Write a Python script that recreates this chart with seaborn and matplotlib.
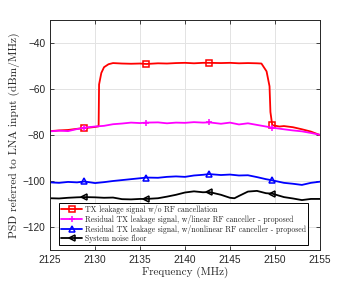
import numpy as np
import pandas as pd
import matplotlib
matplotlib.use('Agg')
import matplotlib.pyplot as plt
import seaborn as sns

# ---- data ----
marker_freqs = [2128.8, 2135.7, 2142.7, 2149.7]

freq_tx = [2125, 2126, 2127, 2128, 2128.8, 2130, 2130.4, 2130.45, 2130.7, 2131.0, 2131.5, 2132,
           2133, 2134, 2135, 2135.7, 2137, 2138, 2139, 2140, 2141, 2142, 2142.7, 2144, 2145,
           2146, 2147, 2148, 2148.5, 2149.07, 2149.4, 2149.5, 2149.7, 2150.5, 2151, 2152, 2153,
           2154, 2155]
psd_tx = [-78.3, -78.0, -77.8, -77.3, -77.0, -76.5, -76.2, -58.0, -53.0, -50.5, -49.2, -48.7,
          -48.9, -49.0, -48.9, -49.1, -48.8, -48.9, -48.7, -48.6, -48.8, -48.6, -48.6, -48.7,
          -48.6, -48.8, -48.7, -48.8, -48.9, -52.3, -58.8, -70.0, -75.7, -76.3, -76.1, -76.6,
          -77.5, -78.5, -80.0]

freq_lin = [2125, 2126, 2127, 2128, 2128.8, 2130, 2131, 2132, 2133, 2134, 2135, 2135.7, 2137,
            2138, 2139, 2140, 2141, 2142, 2142.7, 2144, 2145, 2146, 2147, 2148, 2149, 2149.7,
            2151, 2152, 2153, 2154, 2155]
psd_lin = [-78.4, -78.1, -78.3, -77.4, -76.8, -76.3, -76.0, -75.3, -75.0, -74.6, -74.8, -74.6,
           -74.5, -74.9, -74.6, -74.7, -74.4, -74.6, -74.5, -75.1, -74.6, -75.4, -74.9, -75.6,
           -76.3, -76.8, -77.5, -78.0, -78.4, -79.1, -79.9]

freq_nl = freq_lin
psd_nl = [-100.6, -100.8, -100.4, -100.6, -100.2, -100.9, -100.5, -100.0, -99.6, -99.2, -98.8,
          -98.5, -98.6, -98.2, -98.0, -98.2, -97.6, -97.3, -97.0, -97.4, -97.2, -97.6, -97.5,
          -98.3, -99.2, -99.7, -100.8, -101.2, -101.7, -100.8, -100.3]

freq_nf = [2125, 2126, 2127, 2128, 2128.8, 2130, 2131, 2132, 2133, 2134, 2135, 2135.7, 2137,
           2138, 2139, 2140, 2141, 2142, 2142.7, 2144, 2145, 2145.5, 2146, 2147, 2148, 2149,
           2149.7, 2151, 2152, 2153, 2154, 2155]
psd_nf = [-107.5, -107.6, -107.3, -107.1, -107.0, -107.1, -107.3, -107.2, -107.9, -108.0,
          -107.8, -107.8, -107.5, -106.8, -106.0, -105.0, -104.5, -104.9, -104.8, -106.0,
          -107.3, -107.5, -106.5, -104.6, -104.3, -105.3, -105.5, -107.0, -107.6, -108.3,
          -107.8, -107.8]

labels = ['TX leakage signal w/o RF cancellation',
          'Residual TX leakage signal, w/linear RF canceller - proposed',
          'Residual TX leakage signal, w/nonlinear RF canceller - proposed',
          'System noise floor']

sns.set_theme(style='ticks')
plt.rcParams['font.family'] = ['Liberation Sans', 'DejaVu Sans']
serif = ['cmr10', 'Liberation Serif']

fig = plt.figure(figsize=(3.5, 2.91), dpi=100)
ax = fig.add_axes([0.143, 0.141, 0.771, 0.79])

series = [
    (freq_tx, psd_tx, '#FF0000', 's', labels[0]),
    (freq_lin, psd_lin, '#FF00FF', '+', labels[1]),
    (freq_nl, psd_nl, '#0000FF', '^', labels[2]),
    (freq_nf, psd_nf, '#000000', '<', labels[3]),
]

for f, p, c, m, lab in series:
    idx = [f.index(mf) for mf in marker_freqs]
    df = pd.DataFrame({'f': f, 'p': p})
    sns.lineplot(data=df, x='f', y='p', ax=ax, color=c, lw=1.3, marker=m, markevery=idx,
                 markersize=4.5, markerfacecolor='none', markeredgecolor=c, markeredgewidth=1.1,
                 label=lab, sort=False)

ax.set_xlim(2125, 2155)
ax.set_ylim(-130, -30)
ax.set_xticks(np.arange(2125, 2156, 5))
ax.set_yticks(np.arange(-120, -29, 20))
ax.grid(True, color='#E3E3E3', lw=0.7)
ax.set_axisbelow(True)
ax.tick_params(direction='in', length=3, width=0.6, labelsize=7.3, colors='#262626',
               top=True, right=True, pad=3.5)
for s in ax.spines.values():
    s.set_color('#262626')
    s.set_linewidth(0.7)

ax.set_xlabel('Frequency (MHz)', family=serif, fontsize=8, labelpad=1.5, color='#262626')
ax.set_ylabel('PSD referred to LNA input (dBm/MHz)', family=serif, fontsize=8.3,
              labelpad=2, color='#262626')

leg = ax.legend(loc='lower left', bbox_to_anchor=(0.035, 0.022),
                prop={'family': serif, 'size': 5.6},
                frameon=True, fancybox=False, edgecolor='black', framealpha=1,
                handlelength=2.6, borderpad=0.25, labelspacing=0.12, handletextpad=0.4,
                borderaxespad=0)
leg.get_frame().set_linewidth(0.7)

fig.savefig('out.png', dpi=100)
